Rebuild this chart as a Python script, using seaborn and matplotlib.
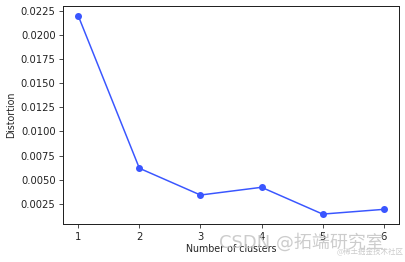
import matplotlib
matplotlib.use("Agg")
import matplotlib.pyplot as plt
import seaborn as sns
import pandas as pd

clusters = [1, 2, 3, 4, 5, 6]
distortion = [0.02195, 0.0062, 0.00343, 0.00423, 0.00146, 0.00195]
yticks = [0.0025, 0.0050, 0.0075, 0.0100, 0.0125, 0.0150, 0.0175, 0.0200, 0.0225]

sns.set_style("ticks")
plt.rcParams['font.family'] = ['DejaVu Sans', 'Noto Sans CJK SC']

df = pd.DataFrame({"k": clusters, "d": distortion})
fig = plt.figure(figsize=(405/72, 262/72), dpi=72)
ax = fig.add_axes([63/405, 1 - 224/262, (399-63)/405, (224-6)/262])
sns.lineplot(data=df, x="k", y="d", ax=ax, color="#3a56ff", marker="o",
             markersize=7, markeredgewidth=0, linewidth=1.5)
ax.set_yticks(yticks)
ax.set_yticklabels([f"{v:.4f}" for v in yticks])
ax.set_xticks(clusters)
ax.set_xlabel("Number of clusters", fontsize=9.5, labelpad=2)
ax.set_ylabel("Distortion", fontsize=9.5, labelpad=4)
ax.tick_params(labelsize=10, colors="#222222", length=4)
for s in ax.spines.values():
    s.set_color("#222222")
    s.set_linewidth(1.0)

fig.text(219/405, 1 - 242/262, "CSDN @拓端研究室", fontsize=18, color="#c4c4c4",
         family=['DejaVu Sans', 'Noto Sans CJK SC'], va="center", alpha=0.85)
fig.text(337/405, 1 - 252/262, "@稀土掘金技术社区", fontsize=7.5, color="#cccccc",
         family=['Noto Sans CJK SC', 'DejaVu Sans'], va="center")
fig.savefig("out.png", dpi=72)
